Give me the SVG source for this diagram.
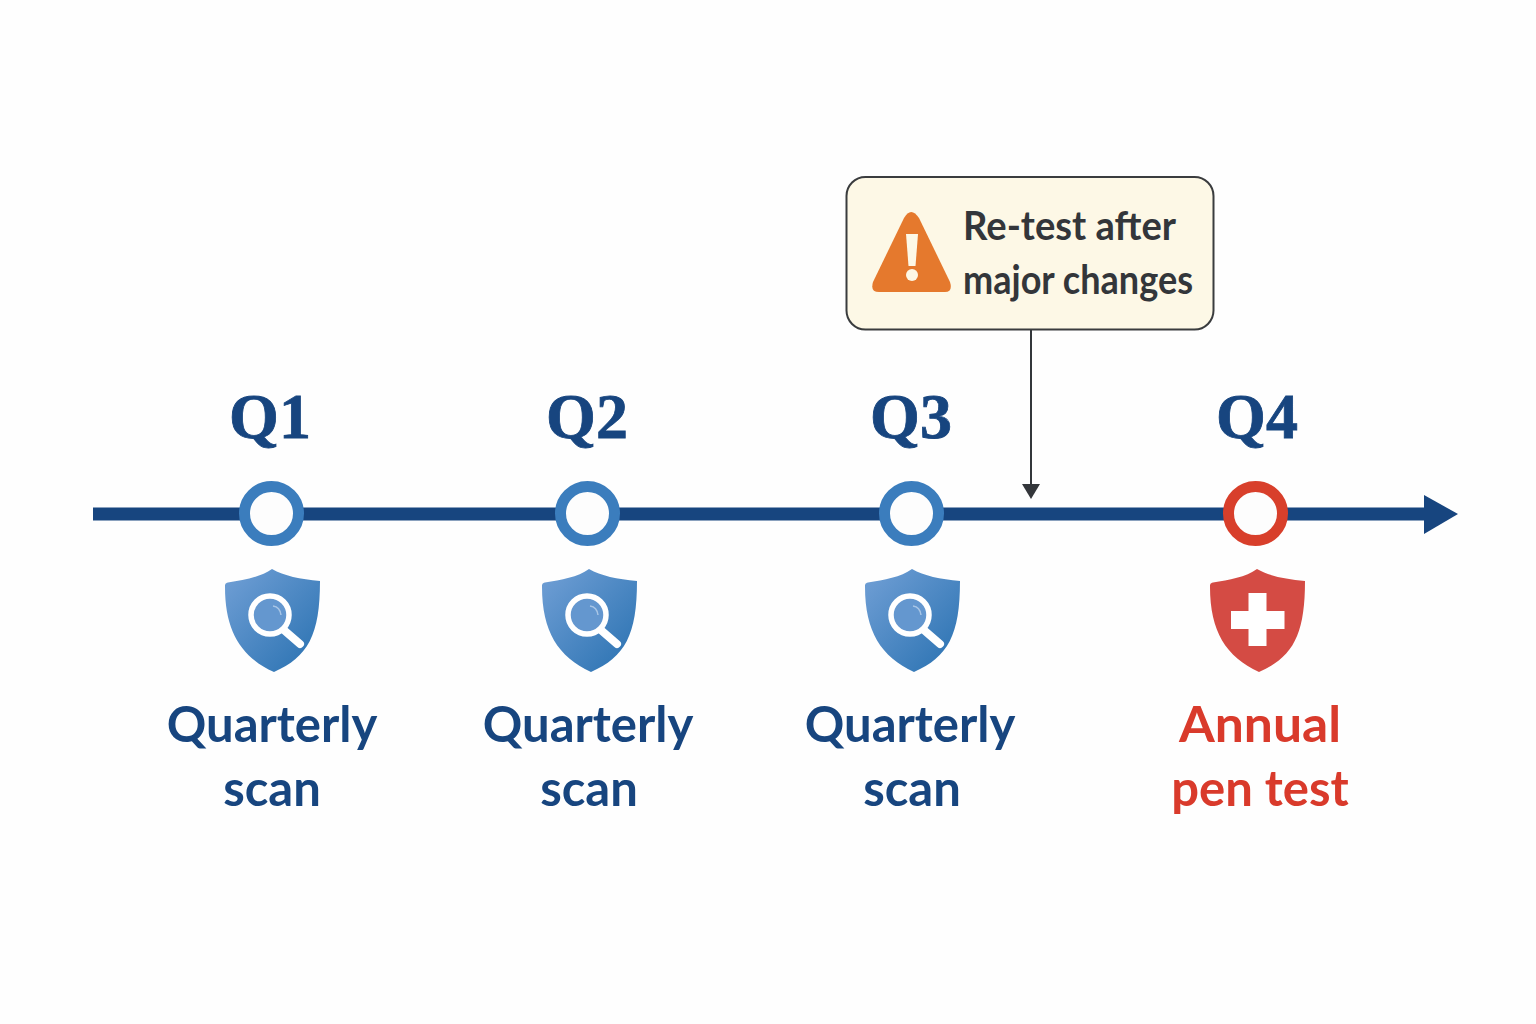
<svg xmlns="http://www.w3.org/2000/svg" width="1536" height="1024" viewBox="0 0 1536 1024">
<style>
.q{font-family:"Liberation Serif",serif;font-weight:700;font-size:64px;fill:#17457f;stroke:#17457f;stroke-width:.8;text-anchor:middle}
.l{font-family:"Lato",sans-serif;font-weight:700;font-size:49px;text-anchor:middle}
.b{fill:#17457f}.r{fill:#d93a2b}
.c{font-family:"Lato",sans-serif;font-weight:700;font-size:40px;fill:#33363a}
.ring{fill:#fdfdfd;stroke-width:11}
</style>
<defs>
<linearGradient id="sb" x1="0" y1="0" x2="1" y2="1"><stop offset="0.1" stop-color="#6a9bd2"/><stop offset="0.9" stop-color="#2f75b4"/></linearGradient>
<path id="shield" d="M0 0C-11 8-28 11-44 13.500C-47 14-47 16-47 18C-47 62-31 88 2 103C36 88 48 66 48 12C28 10 12 7 0 0Z"/>
<g id="scan">
<use href="#shield" fill="url(#sb)"/>
<circle cx="-2" cy="46" r="19" fill="#6497cf" stroke="#fff" stroke-width="5.500"/>
<path d="M1 37Q8 38 9 46" fill="none" stroke="#a9c6e6" stroke-width="1.500"/>
<path d="M13 62L28 75" stroke="#fff" stroke-width="8" stroke-linecap="round"/>
</g>
</defs>
<rect width="1536" height="1024" fill="#fefefe"/>
<g id="connectors">
<path d="M93 514H1426" stroke="#17457f" stroke-width="13" fill="none"/>
<path d="M1424 495L1458 514L1424 534Z" fill="#17457f"/>
<path d="M1031 329V486" stroke="#33363a" stroke-width="2" fill="none"/>
<path d="M1022 484H1040L1031 499Z" fill="#33363a"/>
</g>
<g id="q1">
<text class="q" x="270" y="438">Q1</text>
<circle class="ring" cx="271.500" cy="513.500" r="27" stroke="#3b7dbd"/>
<use href="#scan" x="272" y="569"/>
<text class="l b" x="272" y="742">Quarterly</text>
<text class="l b" x="272" y="806">scan</text>
</g>
<g id="q2">
<text class="q" x="587" y="438">Q2</text>
<circle class="ring" cx="587.500" cy="513.500" r="27" stroke="#3b7dbd"/>
<use href="#scan" x="589" y="569"/>
<text class="l b" x="588" y="742">Quarterly</text>
<text class="l b" x="589" y="806">scan</text>
</g>
<g id="q3">
<text class="q" x="911" y="438">Q3</text>
<circle class="ring" cx="911.500" cy="513.500" r="27" stroke="#3b7dbd"/>
<use href="#scan" x="912" y="569"/>
<text class="l b" x="910" y="742">Quarterly</text>
<text class="l b" x="912" y="806">scan</text>
</g>
<g id="q4">
<text class="q" x="1257" y="438">Q4</text>
<circle class="ring" cx="1255.500" cy="513.500" r="27" stroke="#d83f2b"/>
<use href="#shield" x="1257" y="569" fill="#d44b44"/>
<path d="M1248.500 593H1266.500V611H1284.500V629H1266.500V646H1248.500V629H1231V611H1248.500Z" fill="#fff"/>
<text class="l r" x="1260" y="742" textLength="162" lengthAdjust="spacingAndGlyphs">Annual</text>
<text class="l r" x="1260" y="806">pen test</text>
</g>
<g id="callout">
<rect x="846.500" y="177" width="367" height="152.500" rx="19" fill="#fdf8e6" stroke="#3a3c3e" stroke-width="2"/>
<path d="M919 218L950 282Q953 292 945 292H879Q870 292 873 282L904 218Q911 206 919 218Z" fill="#e5792d"/>
<path d="M906 234H918L915.500 266H908.500Z" fill="#fdf8e6"/>
<circle cx="912" cy="275" r="6" fill="#fdf8e6"/>
<text class="c" x="963" y="240" textLength="213" lengthAdjust="spacingAndGlyphs">Re-test after</text>
<text class="c" x="963" y="294" textLength="230" lengthAdjust="spacingAndGlyphs">major changes</text>
</g>
</svg>
